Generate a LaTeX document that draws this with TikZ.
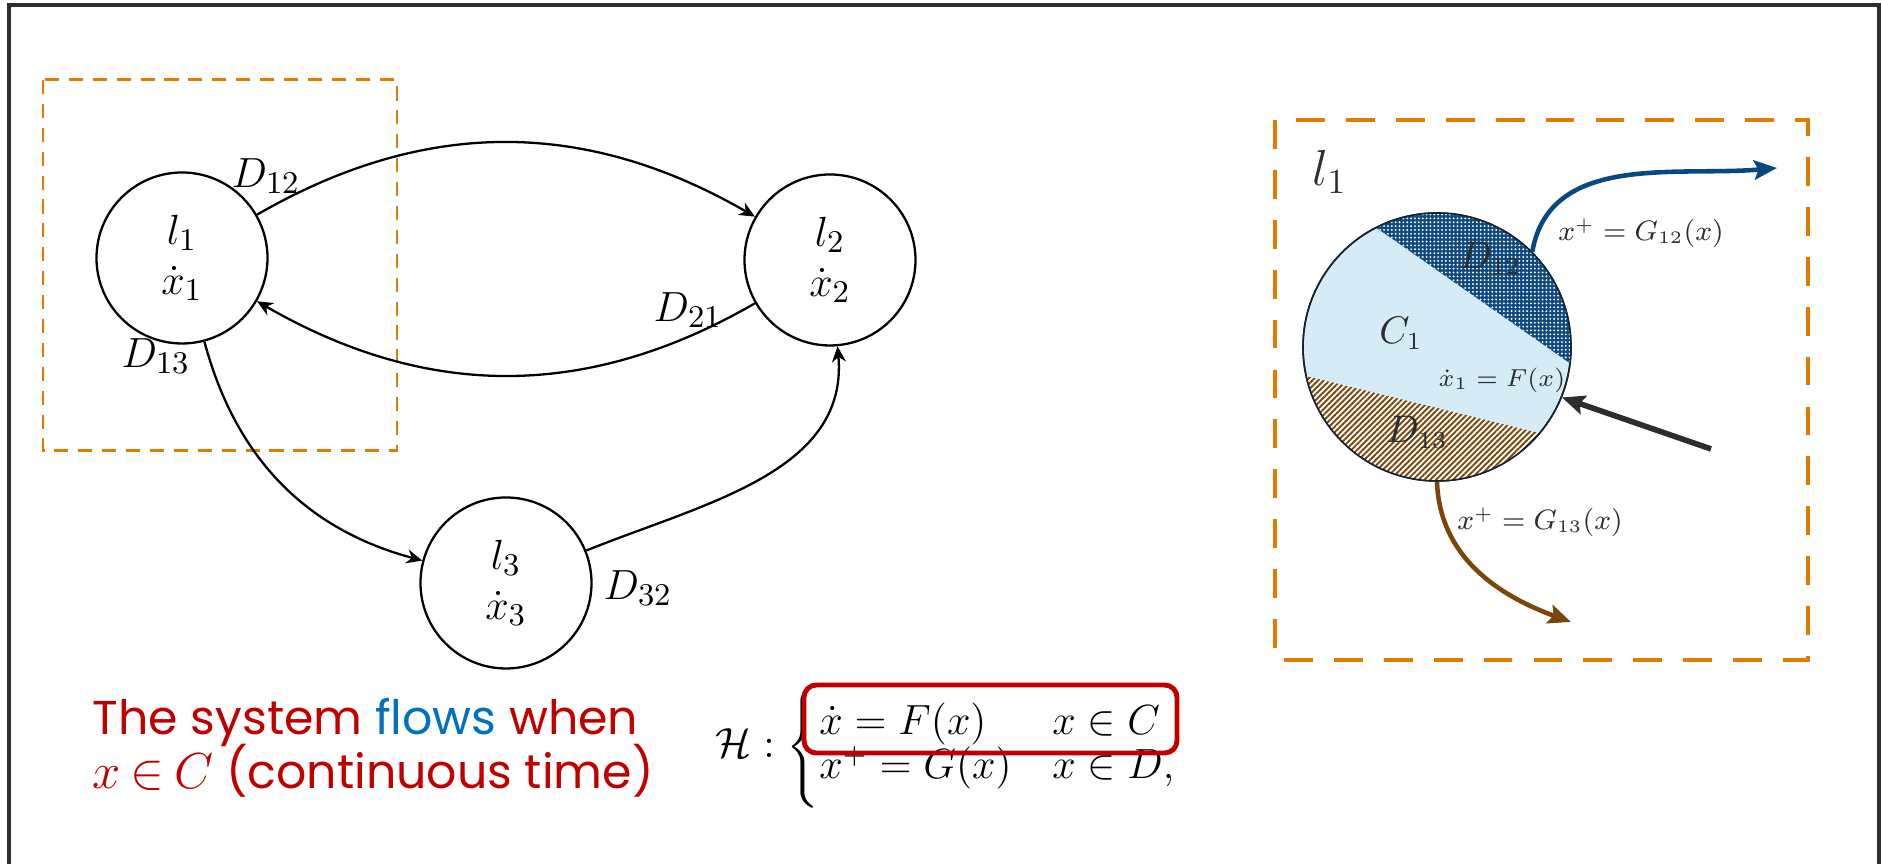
\documentclass[tikz,border=0pt]{standalone}
\usepackage{amsmath,amssymb}
\usepackage{fontspec}
\newfontfamily\notefont{Poppins}
\usepackage{tikz}
\usetikzlibrary{arrows.meta, patterns.meta}
\usepackage{xcolor}
\definecolor{frameGray}{RGB}{45,45,45}
\definecolor{zoneOrange}{RGB}{224,124,0}
\definecolor{flowRed}{RGB}{192,0,0}
\definecolor{flowBlue}{RGB}{0,112,192}
\definecolor{c1Blue}{RGB}{213,235,246}
\definecolor{d12Blue}{RGB}{14,74,127}
\definecolor{d13Brown}{RGB}{123,72,12}
\definecolor{jumpBlue}{RGB}{8,72,128}
\definecolor{jumpBrown}{RGB}{122,70,10}
\definecolor{labelGray}{RGB}{45,45,45}
\definecolor{regionEdge}{RGB}{20,35,50}

\begin{document}
\begin{tikzpicture}[
  state/.style={draw, circle, line width=0.65pt, minimum size=1.71cm, inner sep=0pt, align=center, font=\fontsize{13}{14.2}\selectfont},
  lbl/.style={font=\fontsize{12.5}{14}\selectfont},
  arr/.style={-{Stealth[length=4.5pt, width=4pt]}, line width=0.65pt},
  zone/.style={draw=zoneOrange, dash pattern=on 4pt off 2.8pt, line width=0.85pt},
  bigzone/.style={draw=zoneOrange, dash pattern=on 8.2pt off 6pt, line width=1.3pt},
  region/.style={draw=regionEdge, circle, line width=0.45pt, minimum size=2.68cm, inner sep=0pt},
  reglbl/.style={text=labelGray, font=\fontsize{10.5}{12}\selectfont},
  smalllbl/.style={text=labelGray, font=\fontsize{7.6}{9}\selectfont},
  jump/.style={line width=1.3pt, -{Stealth[length=6.5pt, width=5.5pt, inset=1.2pt]}},
  hilite/.style={draw=flowRed, line width=1.4pt, rounded corners=3.5pt, minimum width=3.73cm, minimum height=0.68cm},
  note/.style={anchor=base west, inner sep=0pt, font=\notefont\fontsize{13.5}{15}\selectfont, text=flowRed}
]
\useasboundingbox (0,0) rectangle (18.81,8.64);
\draw[line width=1.15pt, frameGray] (0.09,-0.5) rectangle (18.79,8.59);

\draw[zone] (0.43,7.84) rectangle (3.97,4.13);
\node[state] (l1) at (1.82,6.06) {$l_1$\\$\dot{x}_1$};
\node[state] (l2) at (8.30,6.04) {$l_2$\\$\dot{x}_2$};
\node[state] (l3) at (5.06,2.81) {$l_3$\\$\dot{x}_3$};
\node[lbl] (d12) at (2.66,6.88) {$D_{12}$};
\node[lbl] (d21) at (6.88,5.54) {$D_{21}$};
\node[lbl] (d13) at (1.56,5.08) {$D_{13}$};
\node[lbl] (d32) at (6.38,2.76) {$D_{32}$};
\draw[arr] (l1) to[out=30, in=150] (l2);
\draw[arr] (l2) to[out=210, in=-30] (l1);
\draw[arr] (l1) to[out=-75, in=165] (l3);
\draw[arr] (l3) to[out=22, in=-85] (l2);

\node[note] (noteA) at (0.92,1.29) {The system \textcolor{flowBlue}{flows} when};
\node[note] (noteB) at (0.92,0.75) {$x\mkern-1.5mu\in\mkern-1.5mu C$ (continuous time)};
\node[anchor=west, inner sep=0pt, font=\fontsize{11.6}{13.4}\selectfont] (sys) at (7.15,1.17) {$\def\arraystretch{0.84}\mathcal{H}:\Biggl\{\begin{array}{@{}l@{\quad}l@{}}\dot{x}=F(x) & x\in C\\ x^+=G(x) & x\in D,\end{array}$};
\node[hilite] (flowbox) at (9.905,1.45) {};

\draw[bigzone] (12.75,7.44) rectangle (18.08,2.04);
\node[region, fill=c1Blue] (reg) at (14.37,5.17) {};
\fill[d12Blue, postaction={pattern={Dots[radius=0.3pt, distance=1.1pt]}, pattern color=white}] ([shift={(117:1.34)}]reg.center) arc[start angle=117, end angle=-7, radius=1.34] -- cycle;
\fill[white, postaction={pattern={Lines[angle=45, distance=1.15pt, line width=0.55pt]}, pattern color=d13Brown}] ([shift={(192.5:1.34)}]reg.center) arc[start angle=192.5, end angle=320, radius=1.34] -- cycle;
\draw[regionEdge, line width=0.45pt] (reg.center) circle (1.34);
\node[reglbl, font=\fontsize{14}{16}\selectfont] (loc) at (13.30,6.92) {$l_1$};
\node[reglbl] (d12r) at (14.90,6.06) {$D_{12}$};
\node[reglbl] (c1r) at (14.01,5.31) {$C_1$};
\node[reglbl, font=\fontsize{7.5}{9}\selectfont] (flowr) at (15.02,4.84) {$\dot{x}_1 = F(x)$};
\node[reglbl] (d13r) at (14.17,4.32) {$D_{13}$};
\node[smalllbl] (g12) at (16.41,6.31) {$x^+ = G_{12}(x)$};
\node[smalllbl] (g13) at (15.40,3.42) {$x^+ = G_{13}(x)$};
\coordinate (g12end) at (17.77,6.96);
\coordinate (g13end) at (15.71,2.42);
\coordinate (flowstart) at (17.11,4.15);
\draw[jump, jumpBlue] (reg.45) to[out=80, in=185] (g12end);
\draw[jump, jumpBrown] (reg.-90) to[out=-88, in=160] (g13end);
\draw[jump, frameGray, line width=1.6pt] (flowstart) -- (reg.-22);
\end{tikzpicture}
\end{document}
